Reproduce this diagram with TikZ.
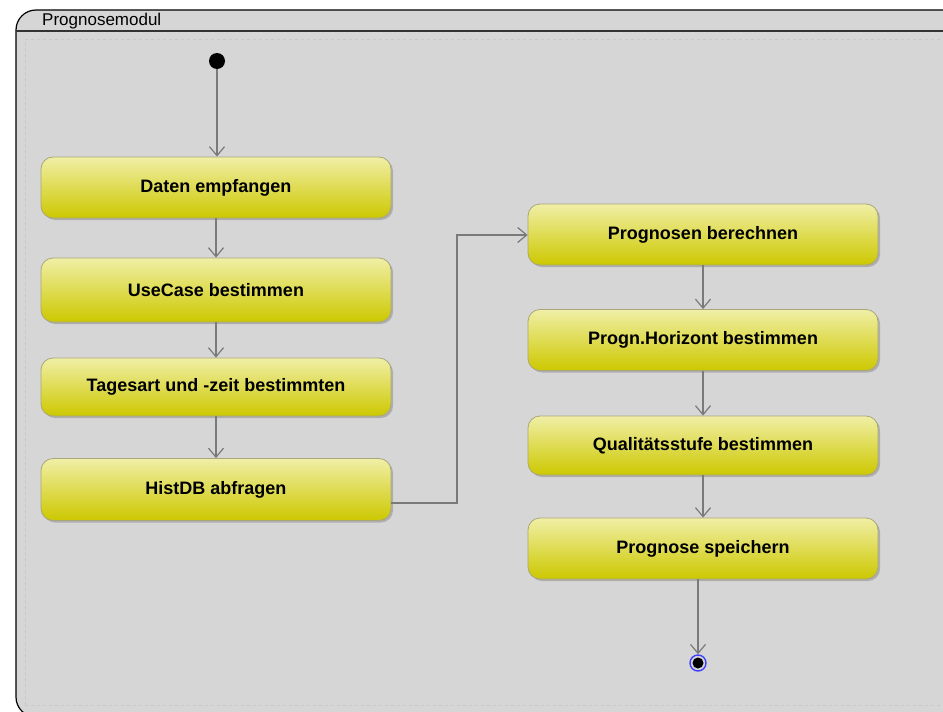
\documentclass[tikz,border=0pt]{standalone}
\usepackage{fontspec}
\setmainfont{Liberation Sans}
\usetikzlibrary{arrows.meta,shadows}
\definecolor{panel}{HTML}{D6D6D6}
\definecolor{flow}{HTML}{7A7A7A}
\definecolor{acttop}{HTML}{F0EFA6}
\definecolor{actbot}{HTML}{CDC800}
\definecolor{actedge}{HTML}{A9A77A}
\tikzset{
  action/.style={rectangle, rounded corners=12pt, minimum width=350pt,
    minimum height=61pt, top color=acttop, bottom color=actbot, draw=actedge,
    line width=0.8pt, font=\fontsize{18}{20}\selectfont\bfseries,
    drop shadow={shadow xshift=2pt, shadow yshift=-2pt, opacity=0.35, fill=black!60}},
  flowline/.style={draw=flow, line width=1.1pt,
    -{Straight Barb[length=9pt,width=15pt,line width=1.2pt]}},
  startnode/.style={circle, fill=black, minimum size=16pt, inner sep=0pt}
}
\newcommand{\acttext}[1]{\raisebox{-2pt}{#1}}
\begin{document}
\begin{tikzpicture}[x=1pt,y=-1pt]
\useasboundingbox (0,0) rectangle (943,712);
\fill[white] (0,0) rectangle (943,712);
\clip (0,0) rectangle (943,712);
% module frame with its title bar
\draw[fill=panel, line width=1.2pt, rounded corners=20pt] (16,10) rectangle (980,717);
\draw[line width=1.6pt, black!80] (16,31) -- (943,31);
\node[anchor=west, font=\fontsize{17}{19}\selectfont, inner sep=0pt] (title) at (42,21) {Prognosemodul};
\draw[black!22, dashed, line width=0.8pt] (25,705) -- (25,39) -- (943,39);
\draw[black!22, dashed, line width=0.8pt] (25,705) -- (943,705);

% initial and final nodes
\node[startnode] (start) at (217,61) {};
\node[circle, draw=blue!75, line width=1.4pt, minimum size=16pt, inner sep=0pt] (finish) at (698,663) {};
\fill[black] (finish) circle (5.5pt);

% actions
\node[action] (daten) at (216,187.5) {\acttext{Daten empfangen}};
\node[action, minimum height=64pt] (usecase) at (216,290) {\acttext{UseCase bestimmen}};
\node[action, minimum height=58pt] (tagesart) at (216,387) {\acttext{Tagesart und -zeit bestimmten}};
\node[action, minimum height=62pt] (histdb) at (216,489.5) {\acttext{HistDB abfragen}};
\node[action] (berechnen) at (703,234.5) {\acttext{Prognosen berechnen}};
\node[action] (horizont) at (703,340) {\acttext{Progn.Horizont bestimmen}};
\node[action, minimum height=59pt] (qualitaet) at (703,445.5) {\acttext{Qualitätsstufe bestimmen}};
\node[action] (speichern) at (703,548.5) {\acttext{Prognose speichern}};

% control flow
\draw[flowline] (start) -- (daten.north -| start);
\draw[flowline] (daten) -- (usecase);
\draw[flowline] (usecase) -- (tagesart);
\draw[flowline] (tagesart) -- (histdb);
\draw[flowline] (histdb.east |- 0,503) -- (457,503) -- (457,235) -- (berechnen.west |- 0,235);
\draw[flowline] (berechnen) -- (horizont);
\draw[flowline] (horizont) -- (qualitaet);
\draw[flowline] (qualitaet) -- (speichern);
\draw[flowline] (speichern.south -| finish) -- (finish);
\end{tikzpicture}
\end{document}
